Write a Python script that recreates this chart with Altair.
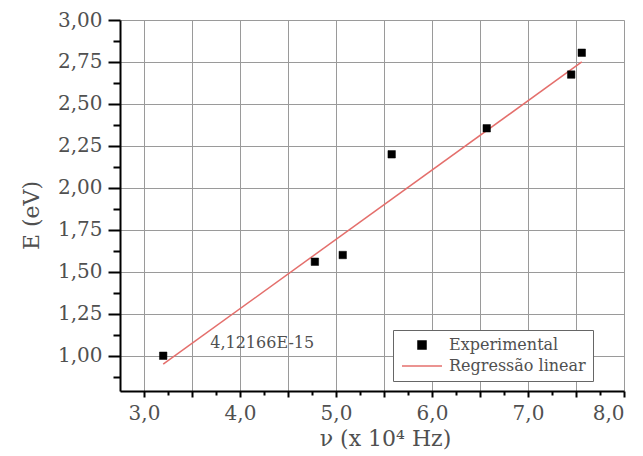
import altair as alt
import pandas as pd

# ---- data ----
nu = [3.20, 4.78, 5.07, 5.58, 6.57, 7.45, 7.56]
energy = [1.00, 1.56, 1.60, 2.20, 2.355, 2.675, 2.805]
fit_nu = [3.20, 7.56]
fit_energy = [0.95, 2.75]
series = ["Experimental", "Regressão linear"]
slope_text = ["4,12166E-15"]
slope_nu = [3.69]
slope_energy = [1.075]
x_ticks = [3.0, 3.25, 3.5, 3.75, 4.0, 4.25, 4.5, 4.75, 5.0, 5.25, 5.5, 5.75,
           6.0, 6.25, 6.5, 6.75, 7.0, 7.25, 7.5, 7.75, 8.0]
y_ticks = [0.875, 1.0, 1.125, 1.25, 1.375, 1.5, 1.625, 1.75, 1.875, 2.0, 2.125,
           2.25, 2.375, 2.5, 2.625, 2.75, 2.875, 3.0]

pts = pd.DataFrame({"nu": nu, "E": energy, "series": series[0]})
fit = pd.DataFrame({"nu": fit_nu, "E": fit_energy, "series": series[1]})
ann = pd.DataFrame({"nu": slope_nu, "E": slope_energy, "t": slope_text})

FONT = "DejaVu Serif"
TXT = "#505050"
RED = "#e46f6c"

x_major = "abs(datum.value*2 - round(datum.value*2)) < 0.001"
y_major = "abs(datum.value*4 - round(datum.value*4)) < 0.001"

x_axis = alt.Axis(
    values=x_ticks,
    labelExpr="abs(datum.value - round(datum.value)) < 0.001 ? replace(format(datum.value, '.1f'), '.', ',') : ''",
    title="ν (x 10⁴ Hz)",
    grid=True, gridColor="#9a9a9a", gridWidth=1,
    gridOpacity={"condition": {"test": x_major, "value": 1}, "value": 0},
    tickSize=6,
    tickDash={"condition": {"test": x_major, "value": [20, 0]}, "value": [4, 20]},
    tickColor="black", tickWidth=2,
    domainColor="black", domainWidth=2,
    labelFont=FONT, labelFontSize=20, labelColor=TXT, labelPadding=6,
    labelOverlap=False,
    titleFont=FONT, titleFontSize=22, titleColor=TXT, titleFontWeight="normal",
    titlePadding=5, titleX=265,
)
y_axis = alt.Axis(
    values=y_ticks,
    labelExpr="(" + y_major + ") ? replace(format(datum.value, '.2f'), '.', ',') : ''",
    title="E (eV)",
    grid=True, gridColor="#9a9a9a", gridWidth=1,
    gridOpacity={"condition": {"test": y_major, "value": 1}, "value": 0},
    tickSize=12,
    tickDash={"condition": {"test": y_major, "value": [20, 0]}, "value": [7, 20]},
    tickColor="black", tickWidth=2,
    domainColor="black", domainWidth=2,
    labelFont=FONT, labelFontSize=20, labelColor=TXT, labelPadding=6,
    labelOverlap=False,
    titleFont=FONT, titleFontSize=22, titleColor=TXT, titleFontWeight="normal",
    titlePadding=14, titleY=195,
)

xs = alt.Scale(domain=[2.75, 8.0], nice=False, zero=False)
ys = alt.Scale(domain=[0.79, 3.0], nice=False, zero=False)


def legend():
    return alt.Legend(
        title=None, orient="none", legendX=273, legendY=310,
        direction="vertical", symbolSize=64, symbolStrokeWidth=1.5,
        labelFont=FONT, labelFontSize=16, labelColor=TXT,
        strokeColor="#666666", fillColor="white", padding=7,
        symbolOffset=14, labelOffset=19, rowPadding=5,
    )


color_scale = alt.Scale(domain=series, range=["black", RED])
shape_scale = alt.Scale(domain=series, range=["square", "M-5,0H5"])

line = alt.Chart(fit).mark_line(strokeWidth=1.5).encode(
    x=alt.X("nu:Q", scale=xs, axis=x_axis),
    y=alt.Y("E:Q", scale=ys, axis=y_axis),
    stroke=alt.Stroke("series:N", scale=color_scale, legend=legend()),
)
points = alt.Chart(pts).mark_point(size=56, filled=True, opacity=1, strokeWidth=0.5).encode(
    x=alt.X("nu:Q", scale=xs, axis=x_axis),
    y=alt.Y("E:Q", scale=ys, axis=y_axis),
    fill=alt.Fill("series:N", scale=color_scale, legend=legend()),
    stroke=alt.Stroke("series:N", scale=color_scale, legend=legend()),
    shape=alt.Shape("series:N", scale=shape_scale, legend=legend()),
)
label = alt.Chart(ann).mark_text(
    align="left", baseline="middle", font=FONT, fontSize=16, color=TXT
).encode(
    x=alt.X("nu:Q", scale=xs, axis=x_axis),
    y=alt.Y("E:Q", scale=ys, axis=y_axis),
    text="t:N",
)

chart = alt.layer(line, points, label).properties(
    width=504, height=371,
    autosize=alt.AutoSizeParams(type="none"),
    padding={"left": 112, "top": 12, "right": 11, "bottom": 64},
).configure_view(stroke="black", strokeWidth=2).configure(background="white")

chart.save("out.html", embed_options={"renderer": "svg", "actions": False})
